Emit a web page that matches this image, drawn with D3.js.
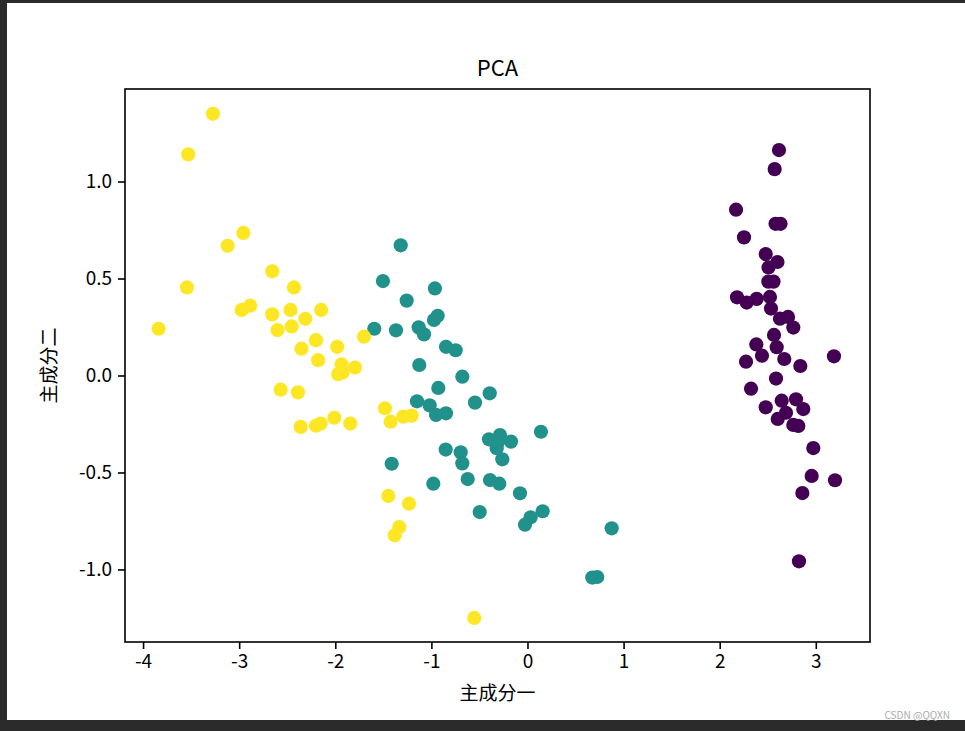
<!DOCTYPE html>
<html><head><meta charset="utf-8">
<script src="https://cdn.jsdelivr.net/npm/d3@7"></script>
<style>body{margin:0;background:#2b2b2b;overflow:hidden} svg{display:block}</style>
</head><body><svg id="c" width="965" height="731"></svg>
<script>
const titleText = "PCA";
const xLabel = "主成分一";
const yLabel = "主成分二";
const classColors = ["#440154", "#21918c", "#fde725"];

const class0X = [2.617,2.572,2.170,2.581,2.633,2.253,2.479,2.601,2.508,2.506,2.560,2.180,2.281,2.385,2.523,2.534,2.627,2.711,2.766,2.565,2.381,2.593,2.440,2.274,2.672,2.839,3.189,2.586,2.326,2.479,2.645,2.794,2.870,2.690,2.604,2.766,2.818,2.974,2.957,3.200,2.860,2.825];
const class0Y = [1.162,1.064,0.855,0.782,0.782,0.712,0.626,0.585,0.557,0.484,0.484,0.403,0.376,0.395,0.405,0.345,0.293,0.302,0.247,0.209,0.160,0.146,0.102,0.071,0.085,0.049,0.099,-0.016,-0.068,-0.164,-0.130,-0.123,-0.173,-0.192,-0.224,-0.255,-0.260,-0.374,-0.518,-0.540,-0.606,-0.958];

const class1X = [-1.319,-1.504,-0.963,-1.257,-1.594,-1.368,-1.132,-1.077,-0.934,-0.973,-0.848,-0.747,-1.126,-0.678,-0.928,-0.393,-0.546,-1.150,-1.018,-0.952,-0.848,0.140,-0.401,-0.286,-0.172,-0.320,-0.262,-0.304,-0.851,-0.695,-0.678,-1.413,-0.980,-0.622,-0.390,-0.293,-0.078,-0.497,0.158,0.033,-0.026,0.876,0.674,0.726];
const class1Y = [0.671,0.487,0.449,0.386,0.241,0.233,0.248,0.212,0.308,0.286,0.148,0.130,0.054,-0.006,-0.064,-0.092,-0.140,-0.133,-0.154,-0.203,-0.195,-0.290,-0.329,-0.307,-0.341,-0.375,-0.432,-0.341,-0.382,-0.396,-0.453,-0.455,-0.558,-0.534,-0.539,-0.558,-0.607,-0.704,-0.700,-0.731,-0.769,-0.788,-1.042,-1.039];

const class2X = [-3.273,-3.530,-2.957,-3.120,-2.656,-3.543,-2.430,-2.974,-2.885,-2.656,-2.466,-2.147,-2.312,-2.601,-2.454,-3.838,-2.201,-2.352,-1.980,-1.701,-2.178,-1.935,-1.970,-1.925,-1.795,-2.568,-2.388,-2.360,-2.201,-2.152,-2.010,-1.844,-1.483,-1.424,-1.292,-1.205,-1.448,-1.233,-1.334,-1.382,-0.554];
const class2Y = [1.349,1.140,0.735,0.669,0.537,0.454,0.454,0.338,0.360,0.315,0.338,0.338,0.292,0.234,0.253,0.241,0.182,0.138,0.148,0.200,0.079,0.057,0.007,0.014,0.041,-0.073,-0.087,-0.265,-0.259,-0.248,-0.218,-0.248,-0.169,-0.238,-0.212,-0.207,-0.621,-0.661,-0.781,-0.824,-1.250];

const xTicks = [-4, -3, -2, -1, 0, 1, 2, 3];
const xTickLabels = ["-4", "-3", "-2", "-1", "0", "1", "2", "3"];
const yTicks = [-1.0, -0.5, 0.0, 0.5, 1.0];
const yTickLabels = ["-1.0", "-0.5", "0.0", "0.5", "1.0"];

const points = [];
[[class0X, class0Y], [class1X, class1Y], [class2X, class2Y]].forEach(([xs, ys], c) => {
  xs.forEach((v, i) => points.push({x: v, y: ys[i], c}));
});

const svg = d3.select("#c");
const L = 125, R = 870, T = 89, B = 642;
const font = "'Noto Sans CJK SC', 'Noto Sans', sans-serif";

svg.append("rect").attr("x", 7).attr("y", 3).attr("width", 958).attr("height", 717).attr("fill", "#fff");

const x = d3.scaleLinear().domain([-4.188, 3.564]).range([L, R]);
const y = d3.scaleLinear().domain([-1.374, 1.477]).range([B, T]);

svg.append("g").selectAll("circle").data(points).join("circle")
  .attr("cx", d => x(d.x)).attr("cy", d => y(d.y)).attr("r", 7.1)
  .attr("fill", d => classColors[d.c]);

const xAxis = svg.append("g").attr("transform", `translate(0,${B})`)
  .call(d3.axisBottom(x).tickValues(xTicks).tickFormat((d, i) => xTickLabels[i]).tickSize(7).tickPadding(6));
const yAxis = svg.append("g").attr("transform", `translate(${L},0)`)
  .call(d3.axisLeft(y).tickValues(yTicks).tickFormat((d, i) => yTickLabels[i]).tickSize(7).tickPadding(6));
[xAxis, yAxis].forEach(a => {
  a.select(".domain").remove();
  a.selectAll(".tick line").attr("stroke", "#000").attr("stroke-width", 1.6);
  a.selectAll(".tick text").attr("fill", "#000").style("font-family", font).style("font-size", "19px");
});
yAxis.selectAll(".tick text").attr("dy", "0.34em");

svg.append("rect").attr("x", L).attr("y", T).attr("width", R - L).attr("height", B - T)
  .attr("fill", "none").attr("stroke", "#000").attr("stroke-width", 1.6);

svg.append("text").attr("x", (L + R) / 2).attr("y", 76).attr("text-anchor", "middle")
  .style("font-family", font).style("font-size", "22px").text(titleText);
svg.append("text").attr("x", (L + R) / 2).attr("y", 700).attr("text-anchor", "middle")
  .style("font-family", font).style("font-size", "19px").text(xLabel);
svg.append("text").attr("transform", `translate(56,${(T + B) / 2}) rotate(-90)`).attr("text-anchor", "middle")
  .style("font-family", font).style("font-size", "19px").text(yLabel);
svg.append("text").attr("x", 950).attr("y", 719).attr("text-anchor", "end")
  .style("font-family", font).style("font-size", "10px").attr("fill", "#aaa").text("CSDN @QQXN");
</script></body></html>
